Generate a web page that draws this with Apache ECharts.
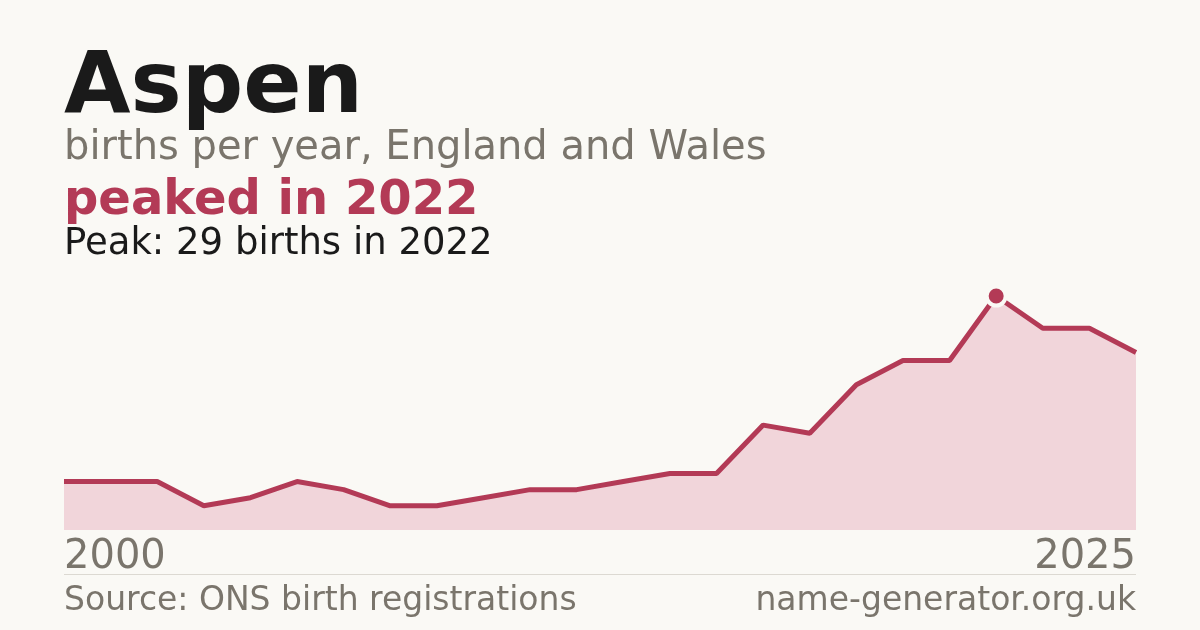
<!DOCTYPE html>
<html>
<head>
<meta charset="utf-8">
<script src="https://cdn.jsdelivr.net/npm/echarts@6/dist/echarts.min.js"></script>
<style>
    html, body { margin: 0; padding: 0; background: #faf9f5; }
    #chart { width: 1200px; height: 630px; }
</style>
</head>
<body>
<div id="chart"></div>
<script>
const tickLabels = ['2000', '2025'];
const births = [6, 6, 6, 3, 4, 6, 5, 3, 3, 4, 5, 5, 6, 7, 7, 13, 12, 18, 21, 21, 29, 25, 25, 22];
const peakIndex = 20;

const crimson = '#b33a56';
const grey = '#7a756c';
const font = '"DejaVu Sans", sans-serif';

let chart = echarts.init(document.getElementById('chart'), null, { renderer: 'canvas' });

let seriesData = births.map((value, i) => {
    if (i !== peakIndex) return value;
    return {
        value: value,
        symbol: 'circle',
        symbolSize: 19,
        itemStyle: { color: crimson, borderColor: '#faf9f5', borderWidth: 4 }
    };
});

function textEl(text, x, y, size, color, weight, align) {
    return {
        type: 'text',
        x: x,
        y: y,
        style: {
            text: text,
            fill: color,
            font: (weight || 'normal') + ' ' + size + 'px ' + font,
            align: align || 'left',
            verticalAlign: 'top'
        }
    };
}

let option = {
    animation: false,
    backgroundColor: '#faf9f5',
    grid: { left: 64, right: 64, top: 296, bottom: 100 },
    xAxis: {
        type: 'category',
        boundaryGap: false,
        data: births.map((_, i) => i),
        axisLine: { show: false },
        axisTick: { show: false },
        splitLine: { show: false },
        axisLabel: {
            interval: 0,
            margin: 8,
            color: grey,
            fontFamily: font,
            fontSize: 40,
            alignMinLabel: 'left',
            alignMaxLabel: 'right',
            formatter: (v, i) => i === 0 ? tickLabels[0] : (i === births.length - 1 ? tickLabels[1] : '')
        }
    },
    yAxis: {
        type: 'value',
        min: 0,
        max: 29,
        show: false
    },
    series: [
        {
            type: 'line',
            data: seriesData,
            symbol: 'none',
            clip: false,
            lineStyle: { color: crimson, width: 5 },
            itemStyle: { color: crimson },
            areaStyle: { color: '#f1d5da', opacity: 1 }
        }
    ],
    graphic: [
        textEl('Aspen', 64, 47, 86, '#1a1a1a', 'bold'),
        textEl('births per year, England and Wales', 64, 129, 40, grey),
        textEl('peaked in 2022', 64, 178, 48, crimson, 'bold'),
        textEl('Peak: 29 births in 2022', 64, 226, 37, '#1a1a1a'),
        {
            type: 'line',
            shape: { x1: 64, y1: 574.5, x2: 1136, y2: 574.5 },
            style: { stroke: '#dcd9d2', lineWidth: 1 }
        },
        textEl('Source: ONS birth registrations', 64, 585, 33, grey),
        textEl('name-generator.org.uk', 1136, 585, 33, grey, 'normal', 'right')
    ]
};

chart.setOption(option);
</script>
</body>
</html>
